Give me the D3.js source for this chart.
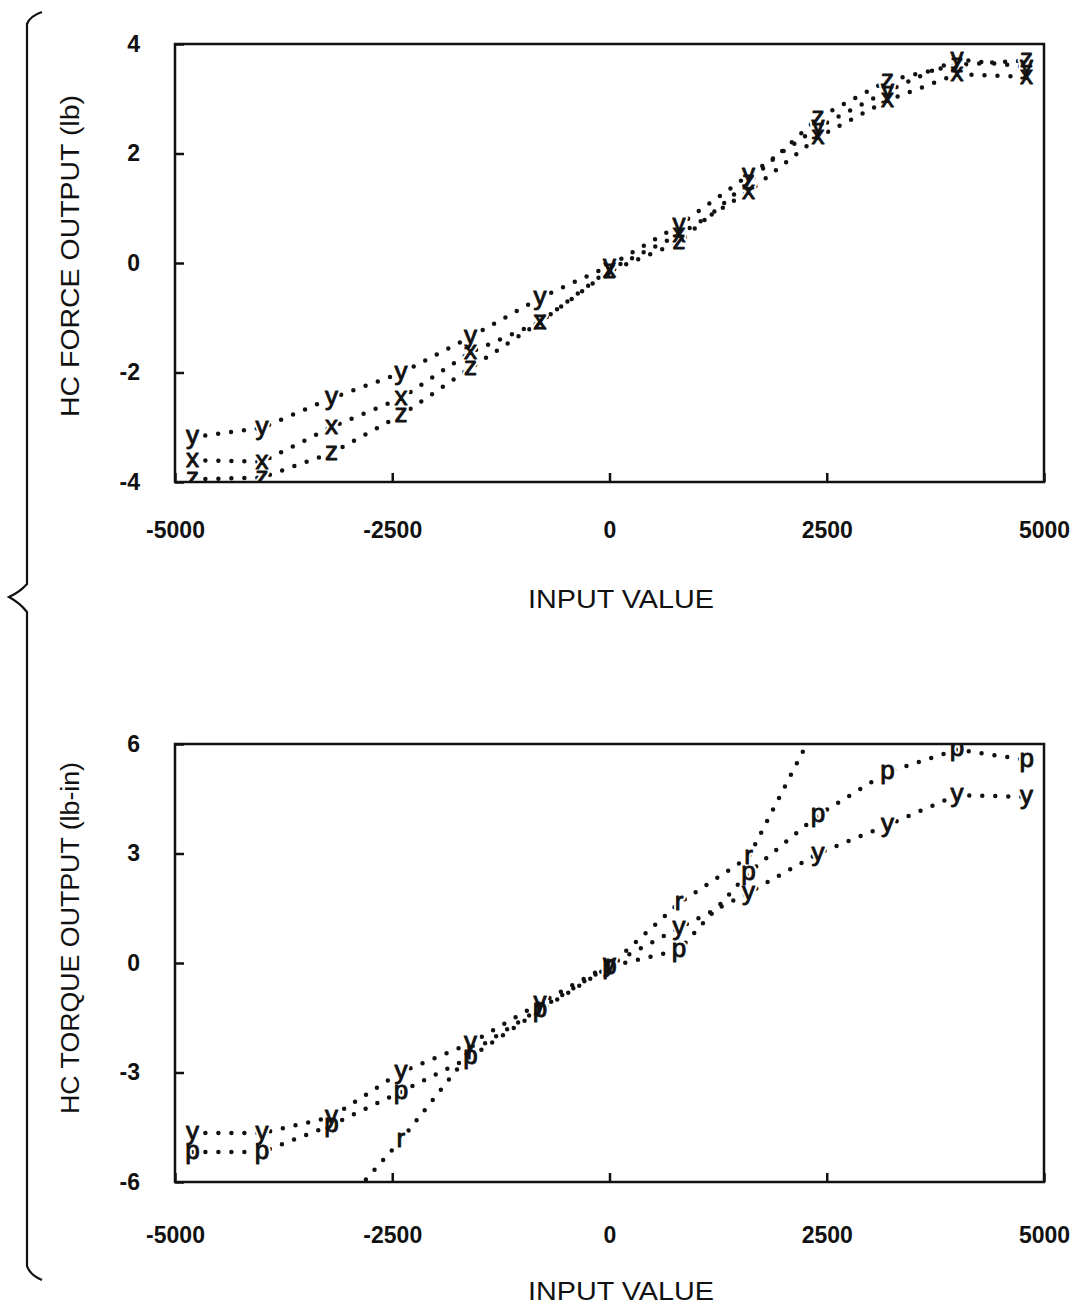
<!DOCTYPE html>
<html>
<head>
<meta charset="utf-8">
<script src="https://cdn.jsdelivr.net/npm/d3@7"></script>
<style>
body { margin: 0; background: #fff; }
svg { display: block; font-family: "Liberation Sans", Arial, sans-serif; }
</style>
</head>
<body>
<svg id="chart" width="1087" height="1311"></svg>
<script>
// input values where the readings were taken
var inputValues = [-4800, -4000, -3200, -2400, -1600, -800, 0, 800, 1600, 2400, 3200, 4000, 4800];

// HC force output (lb), axes x / y / z
var forceX = [-3.6, -3.63, -3.0, -2.47, -1.63, -1.08, -0.12, 0.52, 1.3, 2.3, 2.97, 3.45, 3.4];
var forceY = [-3.18, -3.01, -2.47, -2.01, -1.35, -0.64, -0.05, 0.69, 1.6, 2.48, 3.14, 3.72, 3.58];
var forceZ = [-3.95, -3.92, -3.47, -2.78, -1.92, -1.08, -0.15, 0.38, 1.48, 2.65, 3.33, 3.62, 3.7];

// HC torque output (lb-in), axes y / p / r
var torqueY = [-4.66, -4.66, -4.22, -2.99, -2.2, -1.1, -0.05, 0.96, 1.92, 3.0, 3.78, 4.6, 4.55];
var torqueP = [-5.18, -5.18, -4.44, -3.53, -2.58, -1.3, -0.1, 0.36, 2.47, 4.05, 5.23, 5.85, 5.56];
var torqueR = [null, null, -7.0, -4.85, -2.45, -1.25, -0.08, 1.64, 2.9, 6.6, null, null, null];

var xTicks = [-5000, -2500, 0, 2500, 5000];
var forceTicks = [-4, -2, 0, 2, 4];
var torqueTicks = [-6, -3, 0, 3, 6];

var svg = d3.select("#chart");

var x = d3.scaleLinear()
    .domain([-5000, 5000])
    .range([175, 1044]);

// plain "-5000" style labels, no grouping, ascii hyphen
function plain(d) { return String(d); }

function drawPanel(p) {
    var y = d3.scaleLinear()
        .domain(p.yDomain)
        .range([p.bottom, p.top]);

    var g = svg.append("g");

    g.append("clipPath")
        .attr("id", p.id + "-clip")
        .append("rect")
        .attr("x", x.range()[0])
        .attr("y", p.top)
        .attr("width", x.range()[1] - x.range()[0])
        .attr("height", p.bottom - p.top);

    var plot = g.append("g").attr("clip-path", "url(#" + p.id + "-clip)");

    var line = d3.line()
        .defined(function(d) { return d[1] != null; })
        .x(function(d) { return x(d[0]); })
        .y(function(d) { return y(d[1]); });

    // dotted connecting lines
    p.series.forEach(function(s) {
        var pts = inputValues.map(function(v, i) { return [v, s.values[i]]; });
        plot.append("path")
            .datum(pts)
            .attr("d", line)
            .attr("fill", "none")
            .attr("stroke", "#111")
            .attr("stroke-width", 4.5)
            .attr("stroke-linecap", "round")
            .attr("stroke-dasharray", "0 13");
    });

    // letter markers: white halos first, then black letters
    ["halo", "mark"].forEach(function(layer) {
        p.series.forEach(function(s) {
            var pts = inputValues.map(function(v, i) { return [v, s.values[i]]; })
                .filter(function(d) { return d[1] != null; });
            plot.append("g")
                .selectAll("text")
                .data(pts)
                .enter()
                .append("text")
                .attr("x", function(d) { return x(d[0]); })
                .attr("y", function(d) { return y(d[1]); })
                .attr("dy", "0.27em")
                .attr("text-anchor", "middle")
                .style("font-size", "26px")
                .style("fill", layer == "halo" ? "#fff" : "#111")
                .style("stroke", layer == "halo" ? "#fff" : "#111")
                .style("stroke-width", layer == "halo" ? 5 : 0.9)
                .style("stroke-linejoin", "round")
                .text(s.label);
        });
    });

    // frame
    g.append("rect")
        .attr("x", x.range()[0])
        .attr("y", p.top)
        .attr("width", x.range()[1] - x.range()[0])
        .attr("height", p.bottom - p.top)
        .attr("fill", "none")
        .attr("stroke", "#111")
        .attr("stroke-width", 2.5);

    var yAxis = g.append("g")
        .attr("transform", "translate(" + x.range()[0] + ",0)")
        .call(d3.axisLeft(y).tickValues(p.yTicks).tickFormat(plain)
            .tickSizeInner(-9).tickSizeOuter(0).tickPadding(35));
    var xAxis = g.append("g")
        .attr("transform", "translate(0," + p.bottom + ")")
        .call(d3.axisBottom(x).tickValues(xTicks).tickFormat(plain)
            .tickSizeInner(-9).tickSizeOuter(0).tickPadding(p.xPad));

    [yAxis, xAxis].forEach(function(a) {
        a.select(".domain").remove();
        a.selectAll("line").attr("stroke", "#111").attr("stroke-width", 2.5);
        a.selectAll("text")
            .attr("fill", "#111")
            .style("font-size", "23px")
            .style("font-weight", "bold")
            .style("font-family", "'Liberation Sans', Arial, sans-serif");
    });

    // axis titles
    g.append("text")
        .attr("x", 621)
        .attr("y", p.xTitleY)
        .attr("text-anchor", "middle")
        .attr("textLength", 186)
        .attr("lengthAdjust", "spacingAndGlyphs")
        .style("font-size", "26px")
        .style("fill", "#111")
        .text("INPUT VALUE");

    g.append("text")
        .attr("transform", "translate(" + 79 + "," + p.yTitleMid + ") rotate(-90)")
        .attr("text-anchor", "middle")
        .attr("textLength", p.yTitleLen)
        .attr("lengthAdjust", "spacingAndGlyphs")
        .style("font-size", "26px")
        .style("fill", "#111")
        .text(p.yTitle);
}

drawPanel({
    id: "force",
    top: 44, bottom: 482,
    yDomain: [-4, 4],
    yTicks: forceTicks,
    xPad: 40,
    xTitleY: 608,
    yTitle: "HC FORCE OUTPUT (lb)",
    yTitleMid: 256,
    yTitleLen: 322,
    series: [
        { label: "x", values: forceX },
        { label: "y", values: forceY },
        { label: "z", values: forceZ }
    ]
});

drawPanel({
    id: "torque",
    top: 744, bottom: 1182,
    yDomain: [-6, 6],
    yTicks: torqueTicks,
    xPad: 45,
    xTitleY: 1300,
    yTitle: "HC TORQUE OUTPUT (lb-in)",
    yTitleMid: 938,
    yTitleLen: 352,
    series: [
        { label: "y", values: torqueY },
        { label: "p", values: torqueP },
        { label: "r", values: torqueR }
    ]
});

// curly brace grouping both panels
svg.append("path")
    .attr("d", "M42,12 Q30,16 27,24 L27,584 Q20,592 9,597 Q20,603 27,612 L27,1266 Q30,1275 42,1280")
    .attr("fill", "none")
    .attr("stroke", "#111")
    .attr("stroke-width", 2.2);
</script>
</body>
</html>
